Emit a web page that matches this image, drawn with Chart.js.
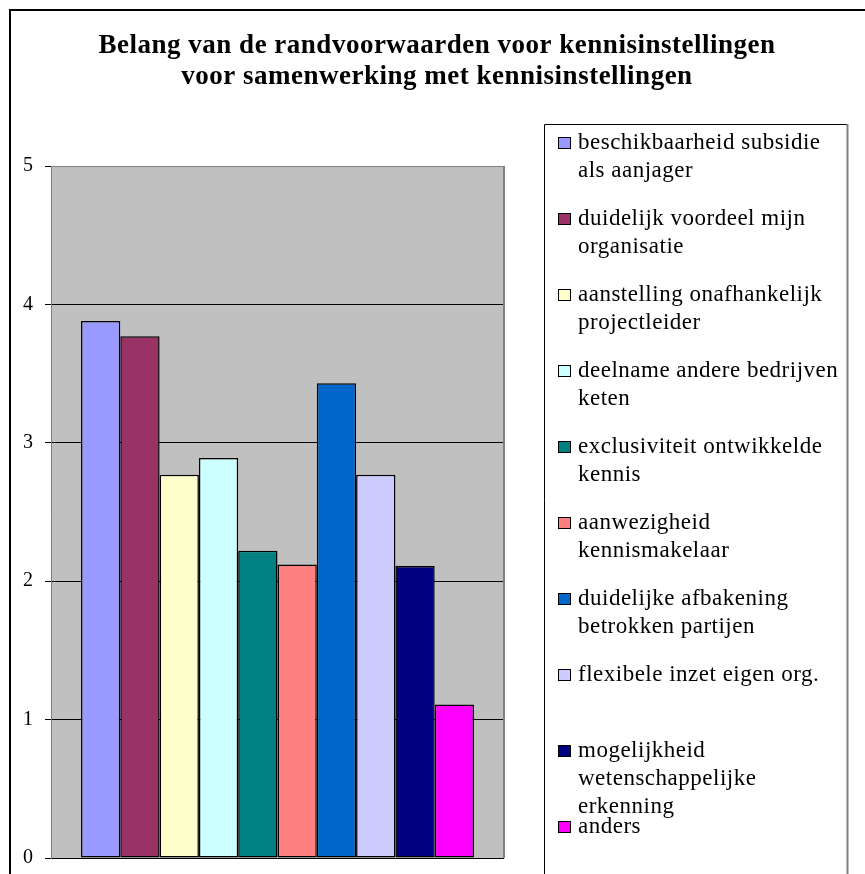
<!DOCTYPE html>
<html>
<head>
<meta charset="utf-8">
<script src="https://cdn.jsdelivr.net/npm/chart.js@4/dist/chart.umd.min.js"></script>
<style>
    html, body { margin: 0; padding: 0; background: #fff; }
</style>
</head>
<body>
<canvas id="chart" width="865" height="874"></canvas>
<script>
const titleLines = [
    'Belang van de randvoorwaarden voor kennisinstellingen',
    'voor samenwerking met kennisinstellingen'
];
const seriesNames = [
    'beschikbaarheid subsidie\nals aanjager',
    'duidelijk voordeel mijn\norganisatie',
    'aanstelling onafhankelijk\nprojectleider',
    'deelname andere bedrijven\nketen',
    'exclusiviteit ontwikkelde\nkennis',
    'aanwezigheid\nkennismakelaar',
    'duidelijke afbakening\nbetrokken partijen',
    'flexibele inzet eigen org.',
    'mogelijkheid\nwetenschappelijke\nerkenning',
    'anders'
];
const seriesValues = [3.88, 3.77, 2.77, 2.89, 2.22, 2.12, 3.43, 2.77, 2.11, 1.11];
const seriesColors = ['#9999FF', '#993366', '#FFFFCC', '#CCFFFF', '#008080',
                      '#FF8080', '#0066CC', '#CCCCFF', '#000080', '#FF00FF'];
const yMin = 0;
const yMax = 5;
const yStep = 1;

const serif = '"Liberation Serif", "Times New Roman", serif';

// grey plot area + grey right edge of the plot
const plotArea = {
    id: 'plotArea',
    beforeDraw(chart) {
        const a = chart.chartArea;
        const ctx = chart.ctx;
        ctx.save();
        ctx.fillStyle = '#C0C0C0';
        ctx.fillRect(a.left, a.top, a.right - a.left, a.bottom - a.top);
        ctx.restore();
    },
    beforeDatasetsDraw(chart) {
        const a = chart.chartArea;
        const ctx = chart.ctx;
        ctx.save();
        ctx.strokeStyle = '#808080';
        ctx.lineWidth = 2;
        ctx.beginPath();
        ctx.moveTo(a.right, a.top);
        ctx.lineTo(a.right, a.bottom);
        ctx.stroke();
        ctx.restore();
    }
};

// outer frame, title and the boxed legend on the right
const frame = {
    id: 'frame',
    afterDraw(chart) {
        const ctx = chart.ctx;
        ctx.save();

        ctx.strokeStyle = '#000';
        ctx.lineWidth = 2;
        ctx.beginPath();
        ctx.moveTo(10, 874);
        ctx.lineTo(10, 10);
        ctx.lineTo(865, 10);
        ctx.stroke();

        ctx.fillStyle = '#000';
        ctx.textAlign = 'center';
        ctx.textBaseline = 'alphabetic';
        ctx.font = 'bold 27px ' + serif;
        ctx.letterSpacing = '0.5px';
        titleLines.forEach((t, i) => ctx.fillText(t, 437, 53 + i * 31));

        // legend box
        ctx.lineWidth = 1;
        ctx.strokeStyle = '#000';
        ctx.beginPath();
        ctx.moveTo(544.5, 874);
        ctx.lineTo(544.5, 124.5);
        ctx.lineTo(847, 124.5);
        ctx.stroke();
        ctx.lineWidth = 2;
        ctx.strokeStyle = '#808080';
        ctx.beginPath();
        ctx.moveTo(847.5, 124);
        ctx.lineTo(847.5, 874);
        ctx.stroke();

        ctx.textAlign = 'left';
        ctx.font = '23px ' + serif;
        ctx.letterSpacing = '0.5px';
        chart.data.datasets.forEach((ds, i) => {
            const base = 149 + i * 76;
            ctx.fillStyle = ds.backgroundColor;
            ctx.fillRect(558, base - 12, 12, 11);
            ctx.lineWidth = 1;
            ctx.strokeStyle = '#000';
            ctx.strokeRect(558.5, base - 11.5, 12, 11);
            ctx.fillStyle = '#000';
            ds.label.split('\n').forEach((line, j) => ctx.fillText(line, 578, base + j * 28));
        });
        ctx.restore();
    }
};

const ctx = document.getElementById('chart').getContext('2d');
const chart = new Chart(ctx, {
    type: 'bar',
    data: {
        labels: [''],
        datasets: seriesNames.map((name, i) => ({
            label: name,
            data: [seriesValues[i]],
            backgroundColor: seriesColors[i],
            borderColor: '#000',
            borderWidth: 1.5,
            borderSkipped: false,
            categoryPercentage: 0.8675,
            barPercentage: 1
        }))
    },
    options: {
        responsive: false,
        animation: false,
        layout: {
            padding: { top: 166, bottom: 16, left: 10, right: 361 }
        },
        plugins: {
            legend: { display: false },
            title: { display: false },
            tooltip: { enabled: false }
        },
        scales: {
            x: { display: false },
            y: {
                min: yMin,
                max: yMax,
                afterFit(scale) {
                    scale.width = 41;
                    scale.paddingTop = 0;
                    scale.paddingBottom = 0;
                },
                ticks: {
                    stepSize: yStep,
                    padding: 12,
                    color: '#000',
                    font: { family: serif, size: 20 }
                },
                grid: {
                    color: c => (c.tick && c.tick.value === yMax ? '#808080' : '#000'),
                    tickColor: '#000',
                    tickLength: 6,
                    lineWidth: 1
                },
                border: { display: true, color: '#808080', width: 1 }
            }
        }
    },
    plugins: [plotArea, frame]
});
</script>
</body>
</html>
